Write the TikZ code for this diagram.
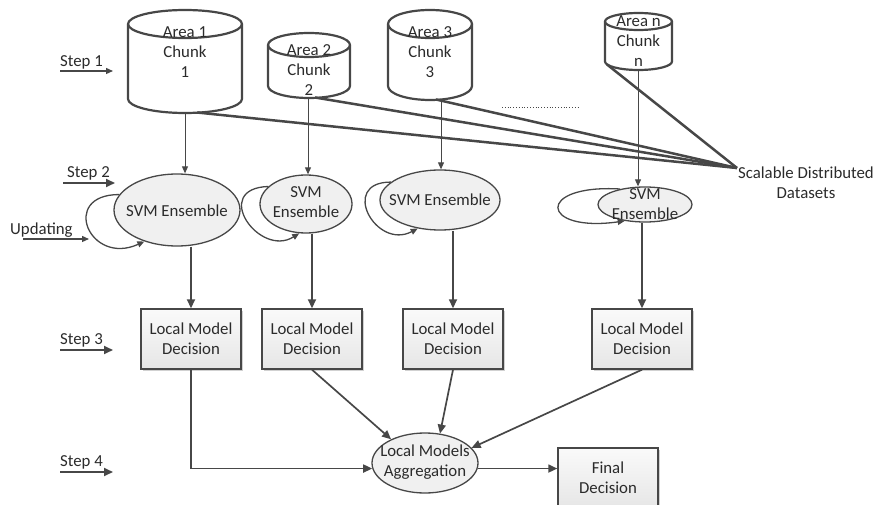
\documentclass[tikz,border=0pt]{standalone}
\usepackage{fontspec}
\setmainfont{Carlito}
\usetikzlibrary{arrows.meta,shapes.geometric,shadows}
\definecolor{ln}{HTML}{474747}
\definecolor{tx}{HTML}{2B2B2B}
\definecolor{fl}{HTML}{F0F0F0}
\definecolor{bxa}{HTML}{FAFAFA}
\definecolor{bxb}{HTML}{E6E6E6}
\begin{document}
\begin{tikzpicture}[x=1pt,y=1pt,
  every node/.style={font=\fontsize{16.8}{20}\selectfont, text=tx},
  txt/.style={inner sep=0pt, align=center},
  cylbody/.style={draw=ln, line width=2.2pt, fill=white, line join=round},
  svm/.style={ellipse, draw=ln, line width=1.3pt, fill=fl, inner sep=0pt},
  lmd/.style={rectangle, draw=ln, line width=1.4pt, top color=bxa, bottom color=bxb,
    minimum width=100pt, minimum height=60pt, align=center, inner sep=0pt,
    drop shadow={shadow xshift=1.6pt, shadow yshift=-1.6pt, fill=black, opacity=0.18}},
  hubline/.style={draw=ln, line width=2.5pt},
  thinarr/.style={draw=ln, line width=0.9pt, -{Triangle[length=7pt,width=6pt]}},
  arr/.style={draw=ln, line width=1.7pt, -{Triangle[length=9pt,width=8pt]}},
  looparr/.style={draw=ln, line width=1.3pt, -{Triangle[length=7pt,width=6pt]}},
  stepline/.style={draw=ln, line width=1.3pt, -{Triangle[length=7pt,width=6pt]}},
  stepthick/.style={draw=ln, line width=2pt, -{Triangle[length=9pt,width=8pt]}},
]
\useasboundingbox (0,0) rectangle (876,504);

% ---------- cylinders ----------
% Cylinder 1
\draw[cylbody] (128,480) -- (128,405) arc[start angle=180, end angle=360, x radius=57, y radius=14] -- (242,480) arc[start angle=0, end angle=180, x radius=57, y radius=14] -- cycle;
\draw[cylbody, fill=none] (128,480) arc[start angle=180, end angle=360, x radius=57, y radius=14];
\node[txt] (cyl1) at (185,452) {Area 1\\Chunk\\1};
% Cylinder 2
\draw[cylbody] (268,459) -- (268,418) arc[start angle=180, end angle=360, x radius=41, y radius=12] -- (350,459) arc[start angle=0, end angle=180, x radius=41, y radius=12] -- cycle;
\draw[cylbody, fill=none] (268,459) arc[start angle=180, end angle=360, x radius=41, y radius=12];
\node[txt] (cyl2) at (309,434) {Area 2\\Chunk\\2};
% Cylinder 3
\draw[cylbody] (388,480) -- (388,418) arc[start angle=180, end angle=360, x radius=42, y radius=14] -- (472,480) arc[start angle=0, end angle=180, x radius=42, y radius=14] -- cycle;
\draw[cylbody, fill=none] (388,480) arc[start angle=180, end angle=360, x radius=42, y radius=14];
\node[txt] (cyl3) at (430,452) {Area 3\\Chunk\\3};
% Cylinder n
\draw[cylbody] (605,482.5) -- (605,442.5) arc[start angle=180, end angle=360, x radius=33.5, y radius=8.5] -- (672,482.5) arc[start angle=0, end angle=180, x radius=33.5, y radius=8.5] -- cycle;
\draw[cylbody, fill=none] (605,482.5) arc[start angle=180, end angle=360, x radius=33.5, y radius=8.5];
\node[txt] (cyln) at (638.5,462.5) {Area n\\Chunk\\n};

\coordinate (c1b) at (185,391);
\coordinate (c2b) at (308,406);
\coordinate (c3b) at (441,404.5);
\coordinate (cnb) at (638,434);
\coordinate (c1h) at (197,391.5);
\coordinate (c2h) at (315,406.5);
\coordinate (c3h) at (436,404.5);
\coordinate (cnh) at (607,439.5);

% ---------- scalable distributed datasets ----------
\node[txt] (sdd) at (806,321) {Scalable Distributed\\Datasets};
\coordinate (hub) at (737,336);
\draw[hubline] (c1h) -- (hub);
\draw[hubline] (c2h) -- (hub);
\draw[hubline] (c3h) -- (hub);
\draw[hubline] (cnh) -- (hub);
\draw[ln, line width=0.8pt, dotted] (502,397) -- (578,397);

% ---------- SVM ensembles ----------
\node[svm, minimum width=126pt, minimum height=72pt] (E1) at (177,294) {};
\node[txt] (E1t) at (177,293) {SVM Ensemble};
\node[svm, minimum width=92pt, minimum height=58pt] (E2) at (306,300) {};
\node[txt] (E2t) at (306,302) {SVM\\Ensemble};
\node[svm, minimum width=120pt, minimum height=60pt] (E3) at (440,304) {};
\node[txt] (E3t) at (440,304) {SVM Ensemble};
\node[svm, minimum width=94pt, minimum height=35pt] (En) at (645,299.5) {};
\node[txt] (Ent) at (645,300) {SVM\\Ensemble};

% loops
\draw[looparr] (E1.165) .. controls +(-60,0) and +(-55,-25) .. (E1.224);
\draw[looparr] (E2.155) .. controls +(-58,-2) and +(-40,-25) .. (E2.257);
\draw[looparr] (E3.160) .. controls +(-52,0) and +(-42,-22) .. (E3.232);
\draw[looparr] (En.148) .. controls +(-85,5) and +(-85,-12) .. (En.219);

% cylinder -> SVM
\draw[thinarr] (c1b) -- (c1b |- E1.north);
\draw[thinarr] (c2b) -- (c2b |- E2.north);
\draw[thinarr] (c3b) -- (c3b |- E3.north);
\draw[thinarr] (cnb) -- (cnb |- En.north);

% ---------- local model decisions ----------
\node[lmd] (B1) at (191,165) {Local Model\\Decision};
\node[lmd] (B2) at (312,165) {Local Model\\Decision};
\node[lmd] (B3) at (453,165) {Local Model\\Decision};
\node[lmd] (B4) at (642,165) {Local Model\\Decision};

\draw[arr] (B1.north |- E1.south) -- (B1.north);
\draw[arr] (B2.north |- E2.south) -- (B2.north);
\draw[arr] (B3.north |- E3.south) -- (B3.north);
\draw[arr] (B4.north |- En.south) -- (B4.north);

% ---------- aggregation ----------
\node[svm, minimum width=106pt, minimum height=60pt] (Agg) at (425,41) {};
\node[txt] (Aggt) at (425,42) {Local Models\\Aggregation};
\node[lmd] (Fin) at (608,26) {Final\\Decision};

\draw[arr] (B1.south) |- (Agg.186);
\draw[arr] (B2.south) -- (Agg.145);
\draw[arr] (B3.south) -- (Agg.63);
\draw[arr] (B4.south) -- (Agg.18);
\draw[arr] (Agg.354) -- (Agg.354 -| Fin.west);

% ---------- step labels ----------
\node[txt, anchor=west] (s1) at (60,442) {Step 1};
\coordinate (s1a) at (60,433);
\coordinate (s1e) at (113,433);
\draw[stepline] (s1a) -- (s1e);

\node[txt, anchor=west] (s2) at (67,331) {Step 2};
\coordinate (s2a) at (63,321);
\coordinate (s2e) at (115,321);
\draw[stepthick] (s2a) -- (s2e);

\node[txt, anchor=west] (up) at (10,274) {Updating};
\coordinate (upa) at (23,265);
\coordinate (upe) at (89,265);
\draw[stepline] (upa) -- (upe);

\node[txt, anchor=west] (s3) at (60,164) {Step 3};
\coordinate (s3a) at (60,154);
\coordinate (s3e) at (113,154);
\draw[stepthick] (s3a) -- (s3e);

\node[txt, anchor=west] (s4) at (60,42) {Step 4};
\coordinate (s4a) at (60,32);
\coordinate (s4e) at (113,32);
\draw[stepthick] (s4a) -- (s4e);
\end{tikzpicture}
\end{document}
